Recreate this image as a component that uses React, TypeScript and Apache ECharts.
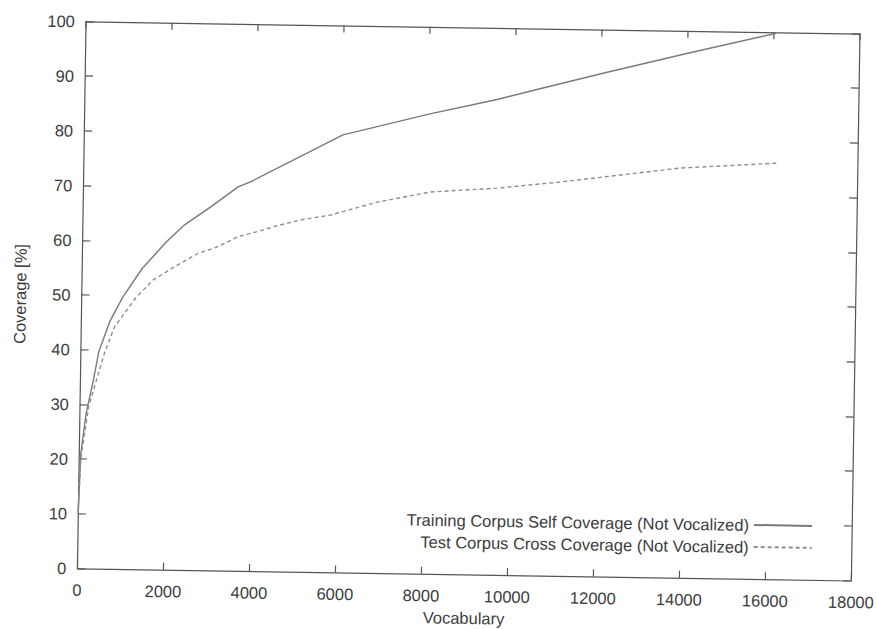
import React, { useEffect, useRef } from "react";
import * as echarts from "echarts";

// Training corpus self coverage (solid)
const trainVocab = [0, 40, 150, 300, 420, 670, 960, 1400, 1950, 2370, 2980, 3600, 3900, 6020, 8035, 9590, 10584, 12140, 14060, 16050];
const trainCoverage = [10, 21, 28.4, 34.2, 39.6, 45.3, 49.7, 55.0, 59.9, 63.1, 66.5, 70.2, 71.2, 80.0, 84.1, 86.9, 89.0, 92.2, 96.0, 99.8];

// Test corpus cross coverage (dashed)
const testVocab = [0, 40, 205, 560, 780, 1270, 1655, 2150, 2690, 3150, 3620, 4080, 4430, 5050, 5750, 6840, 8065, 9620, 11080, 11850, 13870, 16170];
const testCoverage = [10, 20, 29.6, 39.6, 44.3, 49.7, 52.9, 55.4, 57.9, 59.2, 61.1, 62.1, 63.0, 64.3, 65.3, 67.8, 69.8, 70.7, 72.0, 72.8, 74.9, 76.1];

const seriesNames = [
  "Training Corpus Self Coverage (Not Vocalized)",
  "Test Corpus Cross Coverage (Not Vocalized)",
];
const xTitle = "Vocabulary";
const yTitle = "Coverage [%]";

const X_MIN = 0;
const X_MAX = 18000;
const X_STEP = 2000;
const Y_MIN = 0;
const Y_MAX = 100;
const Y_STEP = 10;

// the canvas is padded beyond the page so rotated labels at the edges are not clipped
const PAD = 20;

export default function App() {
  const ref = useRef<HTMLDivElement>(null);

  useEffect(() => {
    if (!ref.current) return;
    const chart = echarts.init(ref.current, null, { renderer: "svg" });
    const font = "'Liberation Sans', Arial, Helvetica, sans-serif";
    const textColor = "#3c3c3c";
    const frame = "#555";
    const fs = 16.5;
    const plain = (v: number) => String(v);

    const baseX = {
      type: "value" as const,
      min: X_MIN,
      max: X_MAX,
      interval: X_STEP,
      splitLine: { show: false },
      axisLine: { show: true, onZero: false, lineStyle: { color: frame, width: 1.2 } },
      axisTick: { show: true, inside: true, length: 7, lineStyle: { color: frame, width: 1.2 } },
    };
    const baseY = {
      type: "value" as const,
      min: Y_MIN,
      max: Y_MAX,
      interval: Y_STEP,
      splitLine: { show: false },
      axisLine: { show: true, onZero: false, lineStyle: { color: frame, width: 1.2 } },
      axisTick: { show: true, inside: true, length: 8, lineStyle: { color: frame, width: 1.2 } },
    };

    const legendCommon = {
      right: 60.7 + PAD,
      orient: "horizontal" as const,
      align: "right" as const,
      itemWidth: 58,
      itemHeight: 14,
      padding: 0,
      selectedMode: false,
      itemStyle: { opacity: 0 },
      textStyle: { color: textColor, fontSize: fs, fontFamily: font, lineHeight: 20 },
    };

    chart.setOption({
      animation: false,
      backgroundColor: "#ffffff",
      grid: {
        left: 81.3 + PAD,
        right: 21.7 + PAD,
        top: 27 + PAD,
        bottom: 55 + PAD,
        containLabel: false,
        outerBoundsMode: "none",
      },
      legend: [
        { ...legendCommon, data: [seriesNames[0]], top: 510 + PAD },
        { ...legendCommon, data: [seriesNames[1]], top: 532 + PAD },
      ],
      xAxis: [
        {
          ...baseX,
          position: "bottom",
          name: xTitle,
          nameLocation: "middle",
          nameGap: 35,
          nameTextStyle: { color: textColor, fontSize: fs, fontFamily: font },
          axisLabel: { color: textColor, fontSize: fs, fontFamily: font, margin: 13, formatter: plain },
        },
        {
          ...baseX,
          position: "top",
          axisLabel: { show: false },
        },
      ],
      yAxis: [
        {
          ...baseY,
          position: "left",
          name: yTitle,
          nameLocation: "middle",
          nameGap: 53,
          nameTextStyle: { color: textColor, fontSize: fs, fontFamily: font },
          axisLabel: { color: textColor, fontSize: fs, fontFamily: font, margin: 11, formatter: plain },
        },
        {
          ...baseY,
          position: "right",
          axisLabel: { show: false },
        },
      ],
      series: [
        {
          name: seriesNames[0],
          type: "line",
          xAxisIndex: 0,
          yAxisIndex: 0,
          symbol: "none",
          showSymbol: false,
          smooth: false,
          color: "#7a7a7a",
          lineStyle: { color: "#7a7a7a", width: 1.4, type: "solid" },
          data: trainVocab.map((v, i) => [v, trainCoverage[i]]),
        },
        {
          name: seriesNames[1],
          type: "line",
          xAxisIndex: 0,
          yAxisIndex: 0,
          symbol: "none",
          showSymbol: false,
          smooth: false,
          color: "#8e8e8e",
          lineStyle: { color: "#8e8e8e", width: 1.4, type: [4, 3] },
          data: testVocab.map((v, i) => [v, testCoverage[i]]),
        },
      ],
    });

    return () => chart.dispose();
  }, []);

  return (
    <div
      style={{
        position: "fixed",
        left: 0,
        top: 0,
        width: 877,
        height: 629,
        overflow: "hidden",
        background: "#fff",
      }}
    >
      <div
        ref={ref}
        style={{
          position: "absolute",
          left: -PAD,
          top: -PAD,
          width: 877 + 2 * PAD,
          height: 629 + 2 * PAD,
          transform: "rotate(0.9deg)",
          transformOrigin: "50% 50%",
        }}
      />
    </div>
  );
}
